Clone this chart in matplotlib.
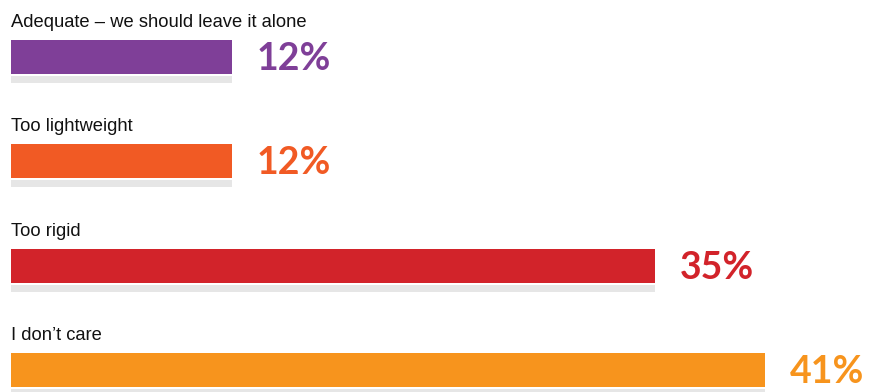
import matplotlib.pyplot as plt

# survey answers and their shares
categories = ['Adequate – we should leave it alone', 'Too lightweight', 'Too rigid', 'I don’t care']
shares = [12, 12, 35, 41]
colors = ['#7F3F98', '#F15A24', '#D2232A', '#F7941D']

W, H = 871, 392
fig = plt.figure(figsize=(W / 100, H / 100), dpi=100)
ax = fig.add_axes([0, 0, 1, 1])

# x in percent, y in pixels from the top
scale = 754 / max(shares)
ax.set_xlim(-11 / scale, (W - 11) / scale)
ax.set_ylim(H, 0)
ax.axis('off')

step = 104.3
for i, (cat, val, col) in enumerate(zip(categories, shares, colors)):
    top = 40 + i * step
    # gray shadow strip under each bar
    ax.barh(top + 34 + 2 + 3.5, val, height=7, left=0, color='#E6E6E6', linewidth=0)
    ax.barh(top + 17, val, height=34, left=0, color=col, linewidth=0)
    ax.text(0, top - 13, cat, fontsize=13.2, family=['Liberation Sans', 'DejaVu Sans'],
            color='#111111', va='baseline', ha='left')
    ax.annotate(f'{val}%', xy=(val, top + 19), xytext=(18, 0),
                textcoords='offset points', va='center', ha='left',
                fontsize=27, family='Lato', fontweight='bold', color=col)

fig.savefig('out.png', dpi=100)
